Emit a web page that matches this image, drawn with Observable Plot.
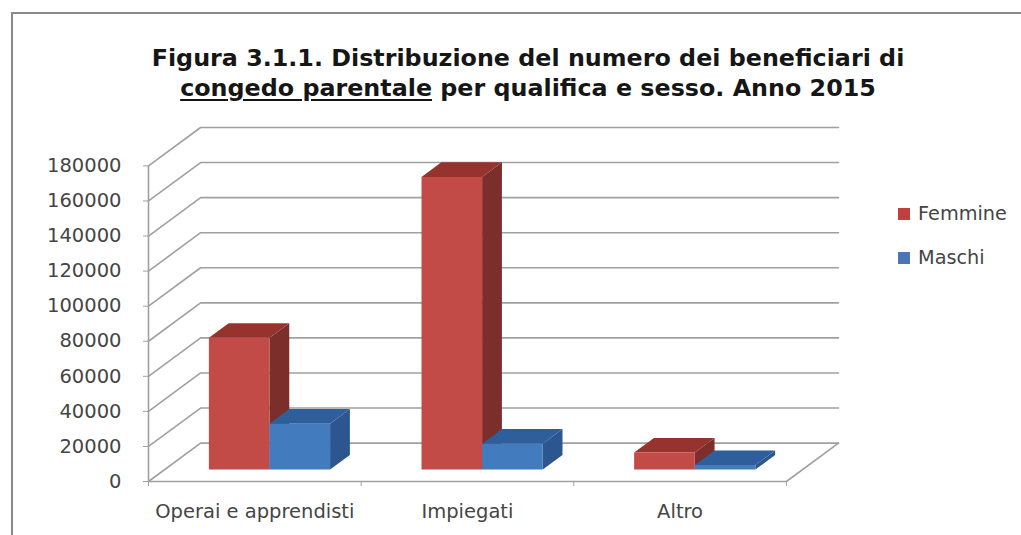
<!DOCTYPE html>
<html lang="it">
<head>
<meta charset="utf-8">
<script src="https://cdn.jsdelivr.net/npm/d3@7"></script>
<script src="https://cdn.jsdelivr.net/npm/@observablehq/plot@0.6"></script>
<style>
  html, body { margin: 0; padding: 0; background: #fff; }
  #page { position: relative; width: 1021px; height: 535px; overflow: hidden; background: #fff; font-family: "DejaVu Sans", sans-serif; }
  #frame { position: absolute; left: 11px; top: 12px; right: -4px; bottom: -4px; border: 2px solid #8a8a8a; }
  #title { position: absolute; left: 28px; width: 1000px; top: 43px; text-align: center; font-weight: bold; font-size: 23.8px; line-height: 30px; color: #161616; white-space: nowrap; }
  #title u { text-underline-offset: 3px; }
  #chart { position: absolute; left: 0; top: 0; }
  .key { position: absolute; left: 898px; font-size: 19.3px; line-height: 22px; color: #454545; white-space: nowrap; }
  .key i { position: absolute; left: 0; top: 5px; width: 12px; height: 12px; }
  .key span { margin-left: 20px; }
</style>
</head>
<body>
<div id="page">
  <div id="frame"></div>
  <div id="chart"></div>
  <div id="title">Figura 3.1.1. Distribuzione del numero dei beneficiari di<br><u>congedo parentale</u> per qualifica e sesso. Anno 2015</div>
  <div class="key" style="top:203px"><i style="background:#c0403f"></i><span>Femmine</span></div>
  <div class="key" style="top:247px"><i style="background:#4a76b8"></i><span>Maschi</span></div>
</div>
<script>
const categories = ["Operai e apprendisti", "Impiegati", "Altro"];
const femmine = [75200, 166900, 9700];
const maschi = [26200, 14800, 2600];
const yTicks = [0, 20000, 40000, 60000, 80000, 100000, 120000, 140000, 160000, 180000];

// Oblique projection: depth 0 is the front plane, depth 1 the back wall.
const depthX = 0.245;      // category units per full depth
const depthY = 21900;      // value units per full depth
const project = (c, v, d) => ({x: c + d * depthX, y: v + d * depthY});

const barWidth = 0.285;
const barGap = 0.208;
const d0 = 0.31, d1 = 0.69;

const palette = {
  F: {front: "#c24a47", top: "#97332f", side: "#7c2e2b"},
  M: {front: "#437bbf", top: "#2f5f9b", side: "#2b5690"}
};
const gridColor = "#a0a0a0";

const poly = (pts, fill) => Plot.line(pts, {x: "x", y: "y", fill, stroke: "none"});
const stroke = (pts, w = 1.6) => Plot.line(pts, {x: "x", y: "y", stroke: gridColor, strokeWidth: w});

function bar(c, slot, v, colors) {
  const a = c + barGap + slot * barWidth, b = a + barWidth;
  return [
    poly([project(b, 0, d0), project(b, 0, d1), project(b, v, d1), project(b, v, d0)], colors.side),
    poly([project(a, v, d0), project(b, v, d0), project(b, v, d1), project(a, v, d1)], colors.top),
    poly([project(a, 0, d0), project(b, 0, d0), project(b, v, d0), project(a, v, d0)], colors.front)
  ];
}

const grid = yTicks.map(v => stroke([project(0, v, 0), project(0, v, 1), project(3, v, 1)]));
const floor = [
  stroke([project(0, 0, 0), project(3, 0, 0), project(3, 0, 1)]),
  stroke([project(0, 0, 0), project(0, 180000, 0)])
];
const bars = categories.flatMap((_, i) => [
  ...bar(i, 0, femmine[i], palette.F),
  ...bar(i, 1, maschi[i], palette.M)
]);

const chart = Plot.plot({
  width: 1021,
  height: 535,
  marginLeft: 148,
  marginRight: 183,
  marginTop: 127,
  marginBottom: 54,
  style: {background: "transparent", fontFamily: "'DejaVu Sans', sans-serif", overflow: "visible"},
  x: {domain: [0, 3 + depthX], axis: null},
  y: {domain: [0, 180000 + depthY], axis: null},
  marks: [
    ...grid,
    ...floor,
    ...bars,
    Plot.axisY(yTicks, {
      anchor: "left", tickSize: 5, tickPadding: 22, fontSize: 19.5, label: null,
      tickFormat: d => String(d), color: "#454545", stroke: gridColor
    }),
    Plot.axisX([0, 1, 2, 3], {
      anchor: "bottom", tickSize: 5, tickFormat: () => "", label: null, stroke: gridColor
    }),
    Plot.axisX([0.5, 1.5, 2.5], {
      anchor: "bottom", tickSize: 0, tickPadding: 23, fontSize: 19.5, label: null,
      tickFormat: d => categories[Math.floor(d)], color: "#454545"
    })
  ]
});
document.getElementById("chart").appendChild(chart);
</script>
</body>
</html>
